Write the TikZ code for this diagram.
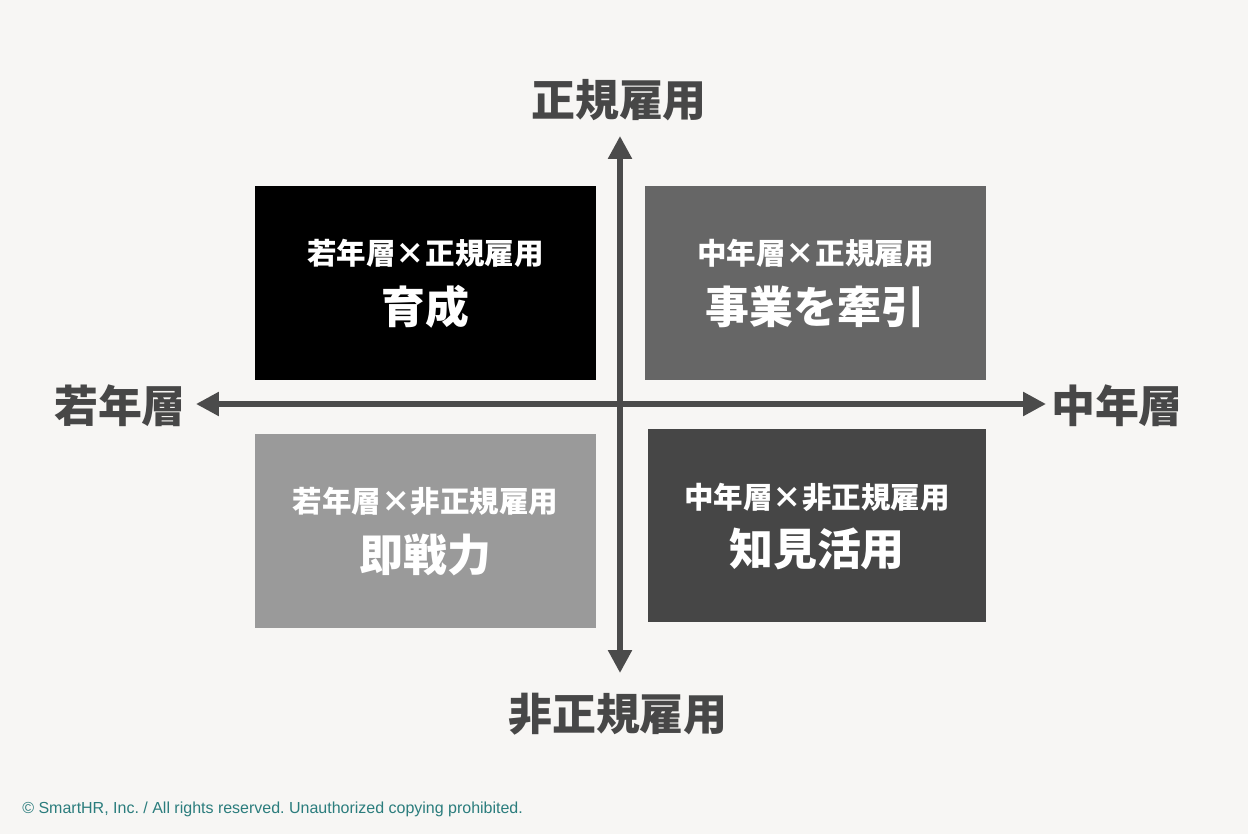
\documentclass[tikz,border=0pt]{standalone}
\usepackage{fontspec}
\usetikzlibrary{arrows.meta}
\newfontfamily\jpfont{Noto Sans CJK JP}
\newfontfamily\footfont{Liberation Sans}
\definecolor{mxPaper}{HTML}{F7F6F4}
\definecolor{mxAxis}{HTML}{4B4B4B}
\definecolor{mxInk}{HTML}{474747}
\definecolor{mxTeal}{HTML}{2B7D7D}
\definecolor{mxBlack}{HTML}{000000}
\definecolor{mxDark}{HTML}{464646}
\definecolor{mxMid}{HTML}{666666}
\definecolor{mxLight}{HTML}{9A9A9A}

\tikzset{
  quad/.style={draw=none,minimum width=6.82cm,minimum height=3.88cm,inner sep=0pt},
  subtext/.style={text=white,font=\jpfont\bfseries\fontsize{16.8}{20}\selectfont},
  maintext/.style={text=white,font=\jpfont\bfseries\fontsize{25}{30}\selectfont},
  axistext/.style={text=mxInk,font=\jpfont\bfseries\fontsize{25}{30}\selectfont},
  axisline/.style={mxAxis,line width=3.1pt,{Triangle[length=13pt,width=13pt]}-{Triangle[length=13pt,width=13pt]}}
}

\begin{document}
\frenchspacing
\begin{tikzpicture}[x=0.02cm,y=-0.02cm]
		\fill[mxPaper] (0,0) rectangle (1248,834);
		\useasboundingbox (0,0) rectangle (1248,834);
		% quadrants
		\node[quad,fill=mxBlack] (yngReg) at (425.5,283) {};
		\node[quad,fill=mxMid]   (midReg) at (815.5,283) {};
		\node[quad,fill=mxLight] (yngIrr) at (425.5,531) {};
		\node[quad,fill=mxDark,minimum width=6.76cm,minimum height=3.86cm] (midIrr) at (817,525.5) {};
		\node[subtext]  (yngRegSub)  at (425.5,253) {若年層×正規雇用};
		\node[maintext] (yngRegMain) at (425.5,307) {育成};
		\node[subtext]  (midRegSub)  at (815.5,253) {中年層×正規雇用};
		\node[maintext] (midRegMain) at (815.5,307) {事業を牽引};
		\node[subtext]  (yngIrrSub)  at (425.5,501) {若年層×非正規雇用};
		\node[maintext] (yngIrrMain) at (425.5,555) {即戦力};
		\node[subtext]  (midIrrSub)  at (817,497) {中年層×非正規雇用};
		\node[maintext] (midIrrMain) at (817,549) {知見活用};
		% axes
		\coordinate (axTop) at (620,136);
		\coordinate (axBot) at (620,673);
		\coordinate (axLft) at (196,404);
		\coordinate (axRgt) at (1046,404);
		\draw[axisline] (axBot) -- (axTop);
		\draw[axisline] (axLft) -- (axRgt);
		\node[axistext] (lblReg) at (619,100) {正規雇用};
		\node[axistext] (lblIrr) at (618,714) {非正規雇用};
		\node[axistext] (lblYng) at (120,406) {若年層};
		\node[axistext] (lblMid) at (1117,406) {中年層};
		% footer
		\node[anchor=west,inner sep=0pt,text=mxTeal,font=\footfont\fontsize{9.1}{11}\selectfont] (credit) at (22,809)
			{© SmartHR, Inc. / All rights reserved. Unauthorized copying prohibited.};
	\end{tikzpicture}
\end{document}
